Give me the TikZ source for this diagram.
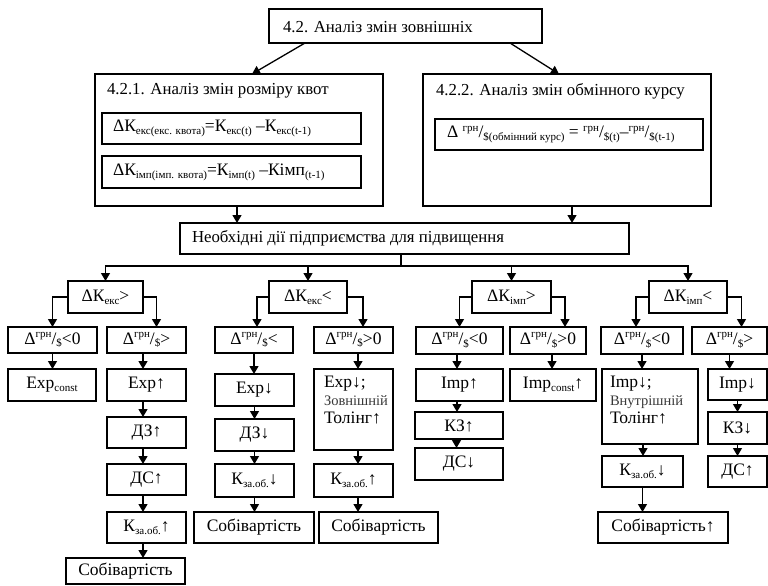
\documentclass[tikz,border=0pt]{standalone}
\usepackage{fontspec}
\setmainfont{Liberation Serif}
\usetikzlibrary{arrows.meta,calc}
\newcommand{\lo}[1]{\raisebox{-0.35ex}{\fontsize{11}{11}\selectfont #1}}
\newcommand{\hi}[1]{\raisebox{0.85ex}{\fontsize{11}{11}\selectfont #1}}
\newcommand{\bxn}[7]{%
  \pgfmathsetmacro\bw{#4-#2}\pgfmathsetmacro\bh{#5-#3}%
  \pgfmathsetmacro\bcx{(#2+#4)/2}\pgfmathsetmacro\bcy{(#3+#5)/2}%
  \node[box,#7,minimum width=\bw pt,minimum height=\bh pt] (#1) at (\bcx,\bcy) {#6};}
\tikzset{
  box/.style={draw,line width=1.3pt,inner sep=0pt,outer sep=0pt,font=\fontsize{17.5}{18}\selectfont},
  txt/.style={inner sep=0pt,outer sep=0pt,font=\fontsize{16.8}{18}\selectfont},
  mtxt/.style={inner sep=0pt,outer sep=0pt,align=left,font=\fontsize{17.5}{18}\selectfont},
  arr/.style={-{Triangle[length=8pt,width=9pt]},line width=1.3pt},
  ln/.style={line width=1.3pt}
}
\newcommand{\smallw}[1]{{\fontsize{14.5}{18}\selectfont\color{black!78}#1}}
\begin{document}
\begin{tikzpicture}[x=1pt,y=-1pt]
\useasboundingbox (0,0) rectangle (768,586);
% top level
\bxn{top}{269}{9}{542}{43}{}{}
\node[txt,anchor=west] (ttop) at ([xshift=14pt,yshift=-1pt]top.west) {4.2. Аналіз змін зовнішніх};
\bxn{b421}{95}{74}{383}{206}{}{}
\node[txt,anchor=west] (t421) at ([xshift=12pt,yshift=-17pt]b421.north west) {4.2.1. Аналіз змін розміру квот};
\bxn{f1}{102}{113}{361}{144}{}{}
\node[txt,anchor=west,font=\fontsize{17.5}{18}\selectfont] (tf1) at ([xshift=11pt]f1.west) {ΔК\lo{екс(екс. квота)}=К\lo{екс(t)} –К\lo{екс(t-1)}};
\bxn{f2}{102}{156}{361}{188}{}{}
\node[txt,anchor=west,font=\fontsize{17.5}{18}\selectfont] (tf2) at ([xshift=11pt]f2.west) {ΔК\lo{імп(імп. квота)}=К\lo{імп(t)} –Кімп\lo{(t-1)}};
\bxn{b422}{423}{74}{711}{206}{}{}
\node[txt,anchor=west] (t422) at ([xshift=13pt,yshift=-17pt]b422.north west) {4.2.2. Аналіз змін обмінного курсу};
\bxn{f3}{435}{119}{703}{150}{}{}
\node[txt,anchor=west,font=\fontsize{17.5}{18}\selectfont] (tf3) at ([xshift=12pt]f3.west) {Δ \hi{грн}/\lo{\$(обмінний курс)} = \hi{грн}/\lo{\$(t)}–\hi{грн}/\lo{\$(t-1)}};
\bxn{nec}{180}{223}{629}{254}{}{}
\node[txt,anchor=west] (tnec) at ([xshift=12pt]nec.west) {Необхідні дії підприємства для підвищення};
% row 1
\bxn{r1a}{68}{281}{143}{313}{ΔК\lo{екс}>}{}
\bxn{r1b}{269}{281}{347}{313}{ΔК\lo{екс}<}{}
\bxn{r1c}{472}{281}{551}{313}{ΔК\lo{імп}>}{}
\bxn{r1d}{649}{281}{727}{313}{ΔК\lo{імп}<}{}
% row 2
\bxn{c1}{8}{327}{97}{353}{Δ\hi{грн}/\lo{\$}<0}{}
\bxn{c2}{107}{327}{186}{353}{Δ\hi{грн}/\lo{\$}>}{}
\bxn{c3}{215}{327}{293}{353}{Δ\hi{грн}/\lo{\$}<}{}
\bxn{c4}{314}{327}{393}{353}{Δ\hi{грн}/\lo{\$}>0}{}
\bxn{c5}{416}{327}{503}{354}{Δ\hi{грн}/\lo{\$}<0}{}
\bxn{c6}{510}{327}{586}{354}{Δ\hi{грн}/\lo{\$}>0}{}
\bxn{c7}{601}{327}{683}{354}{Δ\hi{грн}/\lo{\$}<0}{}
\bxn{c8}{692}{327}{767}{354}{Δ\hi{грн}/\lo{\$}>}{}
% column 1
\bxn{e1}{8}{369}{96}{401}{Exp\lo{const}}{}
% column 2
\bxn{e2}{107}{369}{186}{401}{Exp↑}{}
\bxn{e2b}{107}{417}{186}{448}{ДЗ↑}{}
\bxn{e2c}{107}{464}{186}{495}{ДС↑}{}
\bxn{e2d}{107}{512}{186}{543}{К\lo{за.об.}↑}{}
\bxn{e2e}{66}{558}{185}{584}{Собівартість}{}
% column 3
\bxn{e3}{215}{374}{294}{406}{Exp↓}{}
\bxn{e3b}{215}{419}{294}{451}{ДЗ↓}{}
\bxn{e3c}{215}{464}{294}{497}{К\lo{за.об.}↓}{}
\bxn{e3d}{194}{512}{314}{543}{Собівартість}{}
% column 4
\bxn{e4}{314}{369}{393}{450}{}{}
\node[mtxt,anchor=north west] (te4) at ([xshift=10pt,yshift=-7pt]e4.north west) {Exp↓;\\\smallw{Зовнішній}\\Толінг↑};
\bxn{e4b}{314}{464}{393}{497}{К\lo{за.об.}↑}{}
\bxn{e4c}{319}{512}{438}{543}{Собівартість}{}
% column 5
\bxn{e5}{416}{369}{503}{401}{Imp↑}{}
\bxn{e5b}{415}{412}{503}{439}{КЗ↑}{}
\bxn{e5c}{415}{448}{503}{480}{ДС↓}{}
% column 6
\bxn{e6}{510}{369}{596}{401}{Imp\lo{const}↑}{}
% column 7
\bxn{e7}{602}{369}{698}{444}{}{}
\node[mtxt,anchor=north west] (te7) at ([xshift=8pt,yshift=-7pt]e7.north west) {Imp↓;\\\smallw{Внутрішній}\\Толінг↑};
\bxn{e7b}{602}{456}{683}{487}{К\lo{за.об.}↓}{}
\bxn{e7c}{598}{512}{728}{543}{Собівартість↑}{}
% column 8
\bxn{e8}{708}{369}{767}{400}{Imp↓}{}
\bxn{e8b}{708}{412}{767}{444}{КЗ↓}{}
\bxn{e8c}{708}{456}{767}{487}{ДС↑}{}
% connectors: top
\draw[arr] ([xshift=36pt]top.south west) -- ([xshift=157pt]b421.north west);
\draw[arr] ([xshift=241pt]top.south west) -- ([xshift=136pt]b422.north west);
\draw[arr] ([xshift=-2pt]b421.south) -- ([xshift=-2pt]b421.south |- nec.north);
\draw[arr] ([xshift=5pt]b422.south) -- ([xshift=5pt]b422.south |- nec.north);
\draw[ln] ([xshift=-3.5pt]nec.south) -- ([xshift=-3.5pt,yshift=-12pt]nec.south) coordinate (hub);
\draw[ln] ([xshift=-0.65pt]r1a.north |- hub) -- ([xshift=0.65pt]r1d.north |- hub);
\foreach \r in {r1a,r1b,r1c,r1d} \draw[arr] (\r.north |- hub) -- (\r.north);
% branches
\draw[arr] (r1a.west) -| (c1.north);
\draw[arr] (r1a.east) -| ([xshift=10pt]c2.north);
\draw[arr] (r1b.west) -| ([xshift=3pt]c3.north);
\draw[arr] (r1b.east) -| ([xshift=9.5pt]c4.north);
\draw[arr] (r1c.west) -| (c5.north);
\draw[arr] (r1c.east) -| ([xshift=17pt]c6.north);
\draw[arr] (r1d.west) -| ([xshift=-6pt]c7.north);
\draw[arr] (r1d.east) -| ([xshift=12pt]c8.north);
% vertical chains
\draw[arr] (c1.south) -- (c1.south |- e1.north);
\draw[arr] ([xshift=-3.5pt]c2.south) -- ([xshift=-3.5pt]c2.south |- e2.north);
\draw[arr] ([xshift=-3.5pt]e2.south) -- ([xshift=-3.5pt]e2.south |- e2b.north);
\draw[arr] ([xshift=-3.5pt]e2b.south) -- ([xshift=-3.5pt]e2b.south |- e2c.north);
\draw[arr] ([xshift=-3.5pt]e2c.south) -- ([xshift=-3.5pt]e2c.south |- e2d.north);
\draw[arr] ([xshift=-3.5pt]e2d.south) -- ([xshift=-3.5pt]e2d.south |- e2e.north);
\draw[arr] (c3.south) -- (c3.south |- e3.north);
\draw[arr] (e3.south) -- (e3.south |- e3b.north);
\draw[arr] (e3b.south) -- (e3b.south |- e3c.north);
\draw[arr] (e3c.south) -- (e3c.south |- e3d.north);
\draw[arr] ([xshift=4.5pt]c4.south) -- ([xshift=4.5pt]c4.south |- e4.north);
\draw[arr] ([xshift=4.5pt]e4.south) -- ([xshift=4.5pt]e4.south |- e4b.north);
\draw[arr] ([xshift=4.5pt]e4b.south) -- ([xshift=4.5pt]e4b.south |- e4c.north);
\draw[arr] ([xshift=-2.5pt]c5.south) -- ([xshift=-2.5pt]c5.south |- e5.north);
\draw[arr] ([xshift=-2.5pt]e5.south) -- ([xshift=-2.5pt]e5.south |- e5b.north);
\draw[arr] ([xshift=-2.5pt]e5b.south) -- ([xshift=-2.5pt]e5b.south |- e5c.north);
\draw[arr] ([xshift=4pt]c6.south) -- ([xshift=4pt]c6.south |- e6.north);
\draw[arr] (c7.south) -- (c7.south |- e7.north);
\draw[arr] ([xshift=-7pt]e7.south) -- ([xshift=-7pt]e7.south |- e7b.north);
\draw[arr] (e7b.south) -- (e7b.south |- e7c.north);
\draw[arr] (c8.south) -- (c8.south |- e8.north);
\draw[arr] (e8.south) -- (e8.south |- e8b.north);
\draw[arr] (e8b.south) -- (e8b.south |- e8c.north);
\end{tikzpicture}
\end{document}
